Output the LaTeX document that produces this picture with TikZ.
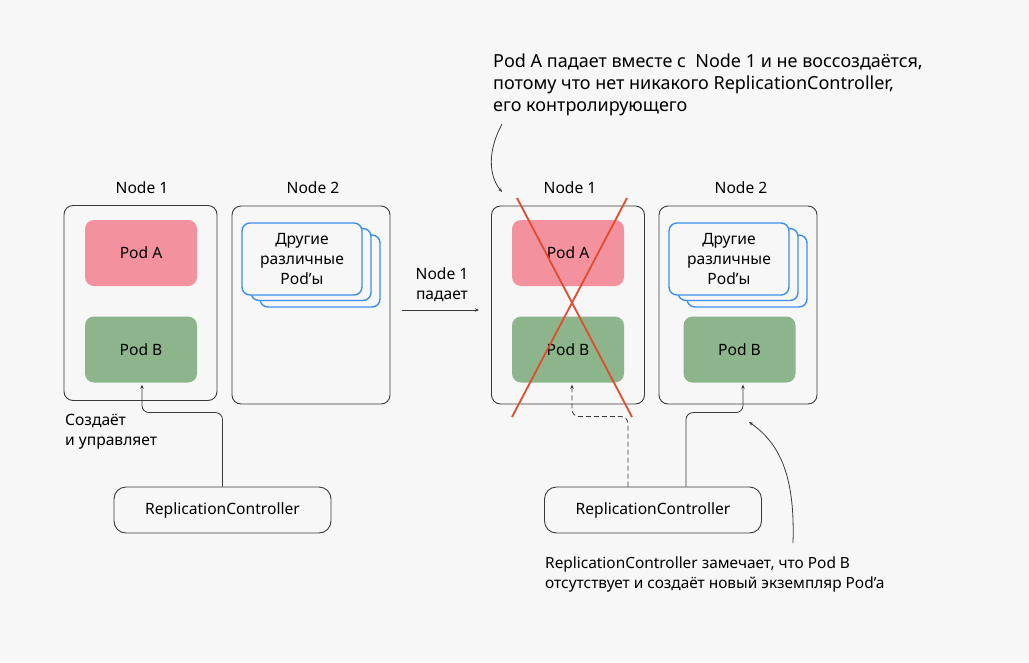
\documentclass[tikz,border=0pt]{standalone}
\usepackage{fontspec}
\setmainfont{Noto Sans}
\usetikzlibrary{arrows.meta,positioning}
\definecolor{bgcol}{HTML}{F7F7F7}
\definecolor{podpink}{HTML}{F4919F}
\definecolor{podgreen}{HTML}{8DB58B}
\definecolor{stackblue}{HTML}{3D8FEA}
\definecolor{crossred}{HTML}{E24B2E}
\definecolor{linegray}{HTML}{3A3A3A}
\newcommand{\txtsize}{\fontsize{15.6}{20}\selectfont}
\newcommand{\bigsize}{\fontsize{18}{22}\selectfont}
\tikzset{
  nodebox/.style={draw=linegray,rounded corners=9pt,line width=0.9pt,inner sep=0pt},
  title/.style={inner sep=0pt,font=\txtsize},
  podbox/.style={rounded corners=9pt,minimum width=112pt,minimum height=66pt,inner sep=0pt,font=\txtsize},
  stackbox/.style={draw=stackblue,fill=bgcol,line width=1.4pt,rounded corners=8pt,minimum width=120pt,minimum height=72pt,inner sep=0pt,align=center,font=\txtsize},
  rcbox/.style={draw=linegray,line width=0.9pt,rounded corners=12pt,minimum width=217pt,minimum height=46pt,inner sep=0pt,font=\txtsize},
  lbl/.style={inner sep=0pt,align=left,font=\txtsize},
  conn/.style={draw=linegray,line width=0.8pt,rounded corners=7pt,-{Stealth[length=4pt,width=3.5pt]}},
  cross/.style={draw=crossred,line width=1.8pt},
}
\begin{document}
\begin{tikzpicture}[x=1pt,y=-1pt]
\useasboundingbox[fill=bgcol] (0,0) rectangle (1029,662);
% before
\node[nodebox,minimum width=153pt,minimum height=195pt] (n1L) at (140.5,303) {};
\node[nodebox,minimum width=158pt,minimum height=198pt] (n2L) at (311,305) {};
\node[title] (t1L) at (142,188) {Node 1};
\node[title] (t2L) at (313,188) {Node 2};
\node[podbox,fill=podpink] (paL) at (141,253) {Pod A};
\node[podbox,fill=podgreen] (pbL) at (141,349.5) {Pod B};
\node[stackbox] (s3L) at (320,271) {};
\node[stackbox] (s2L) at (311,264.5) {};
\node[stackbox] (s1L) at (302,259) {Другие\\различные\\Pod’ы};
\node[rcbox] (rcL) at (222.5,510) {ReplicationController};
\draw[conn] (rcL.north) -- ++(0,-74) -| ([xshift=1pt,yshift=-2pt]pbL.south);
\node[lbl,anchor=north west] (mkL) at (65,414) {Создаёт\\и управляет};
% transition
\node[lbl,align=center] (fall) at (442,285) {Node 1\\падает};
\coordinate (fs) at (402,310);
\coordinate (fe) at (479,310);
\draw[conn] (fs) -- (fe);
% after
\node[nodebox,minimum width=153pt,minimum height=198pt] (n1R) at (568,305) {};
\node[nodebox,minimum width=158pt,minimum height=198pt] (n2R) at (738,305) {};
\node[title] (t1R) at (570,188) {Node 1};
\node[title] (t2R) at (741,188) {Node 2};
\node[podbox,fill=podpink] (paR) at (568,253) {Pod A};
\node[podbox,fill=podgreen] (pbR) at (568,349.5) {Pod B};
\node[stackbox] (s3R) at (747,271) {};
\node[stackbox] (s2R) at (738,264.5) {};
\node[stackbox] (s1R) at (729,259) {Другие\\различные\\Pod’ы};
\node[podbox,fill=podgreen] (pbN) at (739.5,349.5) {Pod B};
\draw[cross] (517,198) -- (632,417);
\draw[cross] (627,198) -- (512,417);
\node[rcbox] (rcR) at (653,510) {ReplicationController};
\draw[conn,dash pattern=on 5pt off 3pt] ([xshift=-25pt]rcR.north) -- ++(0,-70) -| ([xshift=4pt,yshift=-2pt]pbR.south);
\draw[conn] ([xshift=33pt]rcR.north) -- ++(0,-74) -| ([xshift=3.5pt,yshift=-2pt]pbN.south);
% notes
\node[inner sep=0pt,align=left,anchor=north west,font=\bigsize] (noteA) at (493,54)
  {Pod A падает вместе с~ Node 1 и не воссоздаётся,\\потому что нет никакого ReplicationController,\\его контролирующего};
\coordinate (as) at (502,124);
\coordinate (ae) at (502,192);
\draw[conn] (as) .. controls (488,150) and (488,175) .. (ae);
\node[lbl,anchor=north west,font=\fontsize{15.4}{20}\selectfont] (noteB) at (545,557)
  {ReplicationController замечает, что Pod B\\отсутствует и создаёт новый экземпляр Pod’a};
\coordinate (bs) at (793,543);
\coordinate (be) at (749,422);
\draw[conn] (bs) .. controls (795,480) and (782,445) .. (be);
\end{tikzpicture}
\end{document}
